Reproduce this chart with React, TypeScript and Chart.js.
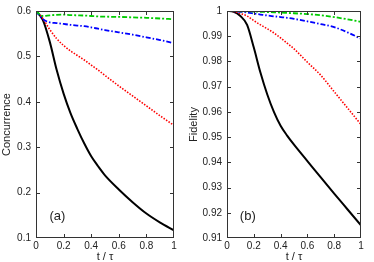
import React, { useEffect, useRef } from "react";
import { Chart, registerables } from "chart.js";

Chart.register(...registerables);

// shared time axis (t / tau)
const tValues = [0, 0.05, 0.1, 0.15, 0.2, 0.25, 0.3, 0.35, 0.4, 0.45, 0.5, 0.6, 0.7, 0.8, 0.9, 1];
const xTicks = [0, 0.2, 0.4, 0.6, 0.8, 1];

// Panel (a): Concurrence
const concBlack = [0.6, 0.58, 0.532, 0.47, 0.418, 0.375, 0.34, 0.308, 0.28, 0.258, 0.238, 0.207, 0.179, 0.154, 0.134, 0.117];
const concRed = [0.6, 0.583, 0.559, 0.539, 0.524, 0.512, 0.502, 0.492, 0.481, 0.47, 0.458, 0.435, 0.413, 0.391, 0.369, 0.348];
const concBlue = [0.6, 0.582, 0.575, 0.5735, 0.5715, 0.5695, 0.568, 0.5665, 0.564, 0.561, 0.558, 0.553, 0.548, 0.542, 0.536, 0.529];
const concGreen = [0.6, 0.589, 0.5905, 0.5915, 0.592, 0.591, 0.5905, 0.59, 0.589, 0.588, 0.5875, 0.587, 0.586, 0.585, 0.5835, 0.582];
const concTicks = [0.1, 0.2, 0.3, 0.4, 0.5, 0.6];

// Panel (b): Fidelity
const fidBlack = [1, 0.9997, 0.998, 0.9945, 0.9855, 0.9755, 0.967, 0.96, 0.9545, 0.9505, 0.947, 0.9405, 0.934, 0.9276, 0.9213, 0.915];
const fidRed = [1, 0.9998, 0.999, 0.998, 0.9962, 0.9945, 0.993, 0.9913, 0.9893, 0.9872, 0.985, 0.9797, 0.9745, 0.968, 0.9615, 0.955];
const fidBlue = [1, 0.9999, 0.9997, 0.9994, 0.999, 0.9986, 0.9982, 0.9979, 0.9976, 0.9973, 0.9969, 0.9959, 0.9948, 0.9936, 0.9915, 0.989];
const fidGreen = [1, 1, 0.9999, 0.9999, 0.9998, 0.9997, 0.9996, 0.9995, 0.9994, 0.99925, 0.9991, 0.9988, 0.9983, 0.9976, 0.9967, 0.9957];
const fidTicks = [0.91, 0.92, 0.93, 0.94, 0.95, 0.96, 0.97, 0.98, 0.99, 1];

const FONT = "'Liberation Sans', Arial, Helvetica, sans-serif";
const TEXT = "#222";
const FRAME = "#333";

function fmt(v: number) {
  return String(parseFloat(Number(v).toFixed(3)));
}

function toPts(vals: number[]) {
  return vals.map((y, i) => ({ x: tValues[i], y }));
}

const framePlugin = (panelLabel: string) => ({
  id: "frame",
  afterDatasetsDraw(chart: any) {
    const { ctx, chartArea } = chart;
    const { left, right, top, bottom } = chartArea;
    const xs = chart.scales.x;
    const ys = chart.scales.y;
    ctx.save();
    ctx.strokeStyle = FRAME;
    ctx.lineWidth = 1;
    ctx.strokeRect(left + 0.5, top + 0.5, right - left - 1, bottom - top - 1);
    const tl = 4;
    ctx.beginPath();
    xs.ticks.forEach((t: any) => {
      const px = Math.round(xs.getPixelForValue(t.value)) + 0.5;
      if (px <= left + 1 || px >= right - 1) return;
      ctx.moveTo(px, bottom);
      ctx.lineTo(px, bottom - tl);
      ctx.moveTo(px, top);
      ctx.lineTo(px, top + tl);
    });
    ys.ticks.forEach((t: any) => {
      const py = Math.round(ys.getPixelForValue(t.value)) + 0.5;
      if (py <= top + 1 || py >= bottom - 1) return;
      ctx.moveTo(left, py);
      ctx.lineTo(left + tl, py);
      ctx.moveTo(right, py);
      ctx.lineTo(right - tl, py);
    });
    ctx.stroke();
    ctx.fillStyle = TEXT;
    ctx.font = `13px ${FONT}`;
    ctx.textAlign = "center";
    ctx.textBaseline = "middle";
    ctx.fillText(panelLabel, left + (right - left) * 0.155, bottom - 22);
    ctx.restore();
  },
});

function makeConfig(
  series: number[][],
  yTicks: number[],
  yTitle: string,
  yWidth: number,
  label: string
): any {
  const colors = ["#000000", "#ff0000", "#0000ff", "#00cc00"];
  const dashes = [[], [1.5, 1.5], [5, 2, 1.5, 2], [5, 2, 2, 2]];
  const widths = [2, 1.6, 1.8, 1.8];
  return {
    type: "line",
    data: {
      datasets: series.map((s, i) => ({
        data: toPts(s),
        borderColor: colors[i],
        borderWidth: widths[i],
        borderDash: dashes[i],
        pointRadius: 0,
        fill: false,
        cubicInterpolationMode: "monotone",
      })).reverse(),
    },
    options: {
      responsive: false,
      animation: false,
      layout: { padding: { left: 0, right: 13, top: 9, bottom: 0 } },
      plugins: { legend: { display: false }, tooltip: { enabled: false } },
      scales: {
        x: {
          type: "linear",
          min: 0,
          max: 1,
          afterBuildTicks: (s: any) => {
            s.ticks = xTicks.map((v) => ({ value: v }));
          },
          afterFit: (s: any) => {
            s.height = 24;
          },
          grid: { display: false, drawTicks: false },
          border: { display: false },
          ticks: {
            padding: 2,
            maxRotation: 0,
            autoSkip: false,
            color: TEXT,
            font: { family: FONT, size: 10 },
            callback: (v: any) => fmt(v),
          },
          title: {
            display: true,
            text: "t / τ",
            color: TEXT,
            padding: 0,
            font: { family: FONT, size: 11, lineHeight: 1 },
          },
        },
        y: {
          type: "linear",
          min: yTicks[0],
          max: yTicks[yTicks.length - 1],
          afterBuildTicks: (s: any) => {
            s.ticks = yTicks.map((v) => ({ value: v }));
          },
          afterFit: (s: any) => {
            s.width = yWidth;
          },
          grid: { display: false, drawTicks: false },
          border: { display: false },
          ticks: {
            padding: 5,
            autoSkip: false,
            color: TEXT,
            font: { family: FONT, size: 10 },
            callback: (v: any) => fmt(v),
          },
          title: {
            display: true,
            text: yTitle,
            color: TEXT,
            padding: 0,
            font: { family: FONT, size: 11, lineHeight: 1.2 },
          },
        },
      },
    },
    plugins: [framePlugin(label)],
  };
}

function Panel(props: { cfg: () => any }) {
  const ref = useRef<HTMLCanvasElement | null>(null);
  useEffect(() => {
    if (!ref.current) return;
    const chart = new Chart(ref.current, props.cfg());
    return () => chart.destroy();
  }, []);
  return (
    <canvas
      ref={ref}
      width={187}
      height={262}
      style={{ width: 187, height: 262, display: "block" }}
    />
  );
}

export default function App() {
  return (
    <div
      style={{
        position: "absolute",
        left: 0,
        top: 0,
        width: 374,
        height: 262,
        display: "flex",
        background: "#fff",
      }}
    >
      <Panel
        cfg={() =>
          makeConfig([concBlack, concRed, concBlue, concGreen], concTicks, "Concurrence", 36, "(a)")
        }
      />
      <Panel
        cfg={() =>
          makeConfig([fidBlack, fidRed, fidBlue, fidGreen], fidTicks, "Fidelity", 40, "(b)")
        }
      />
    </div>
  );
}
